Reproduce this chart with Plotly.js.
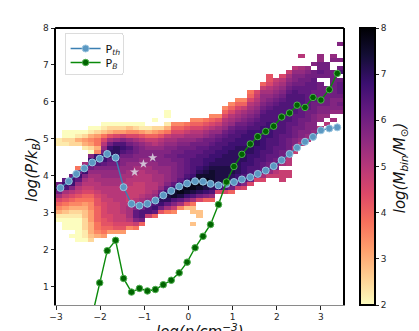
<!DOCTYPE html>
<html><head><meta charset="utf-8">
<script src="https://cdn.plot.ly/plotly-3.0.1.min.js"></script>
<style>html,body{margin:0;padding:0;background:#fff;overflow:hidden}#c{width:419px;height:331px}</style>
</head><body><div id="c"></div>
<script>
// Line series
const logN = [-2.90,-2.71,-2.54,-2.36,-2.18,-2.01,-1.84,-1.65,-1.47,-1.29,-1.11,-0.93,-0.75,-0.57,-0.39,-0.21,-0.03,0.15,0.33,0.50,0.68,0.86,1.03,1.21,1.40,1.57,1.75,1.93,2.11,2.29,2.46,2.64,2.82,3.00,3.19,3.37];
const pTh = [3.67,3.85,4.05,4.20,4.36,4.46,4.59,4.49,3.69,3.24,3.19,3.24,3.33,3.47,3.59,3.71,3.79,3.85,3.84,3.78,3.74,3.78,3.83,3.90,3.96,4.05,4.14,4.26,4.42,4.59,4.76,4.92,5.05,5.23,5.28,5.31];
const pB = [null,null,null,null,0.21,1.10,1.97,2.25,1.22,0.85,0.95,0.88,0.92,1.05,1.17,1.37,1.66,2.05,2.36,2.68,3.22,3.83,4.25,4.58,4.86,5.06,5.20,5.34,5.59,5.70,5.91,5.85,6.12,6.05,6.33,6.77];
const starN = [-1.22,-1.02,-0.81];
const starP = [4.10,4.32,4.49];

// Histogram, one entry per log n bin:
// first filled pressure bin (counted from the top), then one letter per bin.
// a = 2.00, b = 2.25, ... y = 8.00; "." = empty bin
const binStart = [24,22,22,22,22,21,21,20,20,20,20,20,20,20,21,19,21,17,20,20,20,19,19,19,18,18,16,15,14,14,12,12,10,8,9,8,7,6,3,6,5,3,5,3,0];
const binLevels = [
"bb.........qtqnkigeba",
"aacb........rtsnljhfdbaaa",
"aacc.......qttpmkigecbaaa.a",
"abec.....hqtromljhgecbaaaaaa",
"acfeb...nttpnmlkihfeddcccbba",
"abegfcapttqonmmlkihggfffeeedc",
"acfhhegtusponnmmlkjjiiiihhge",
"abdhkmoqttrpoonnmmllkkkkjjihf",
"acejnqtuurqpoonnmmmllllkkjif",
"acfkosuutrqpoonnmmmmlllllkjf",
"acflpstsqppoonnmmmmmmmmllkjf",
"adgkoqsrqpoonnmmllllmnnnmkg",
"acgknpqqpponnmmllllmnprrplh",
"abfjmopppoonmmmlllmnoqssqi",
"beilnoppoonnmmmmmnoqssl",
"a.cfilmopppoonnnmmnoqstri",
"cgjmnoppppoonnnoqsutqj",
"aa.behlnoppqppooooprtvurnh",
"gikmnopqqqppppprtwwsplg",
"gikmopqqrqqqqqrtwxvrng",
"hjlnopqrrrrrrstvxwtpjd",
"gikmnoqqrrsssstvxxvsnhdd..d",
"gikmnpqrrssstuwxxwuqk..dd",
"hjlnoqqrssttuvwxwvtpi",
"gikmopqrssttuvwwwvusoi",
"gjlnoqrssttuuvvvvutk",
"gikmnoqrssttuuuvvvvusk",
"gikmnoqrssttuuuuvvuutqi",
"gikmnoqrssttuuuuuuuttrl",
"gilnopqrstttuuuutttsspk",
"hikmnopqrstttuuutttssrqk",
"klmnopqrssttuutttsssrpk",
"ilnoopqrsssttttttsssrrqnk",
"jjkmnopqrsssttttssssrrqqol",
"lmnopqrssssssssssrrrqqpml",
"kmnopqrssssssssrrrrqqpn.lll",
"lnopqrsssssssrrrrqqqpmmm.ll",
"moppqrssssssrrrqqqppml",
"m..nopqqrrsssrrrqqqppom",
"opqqrrrrrrrqqqpppom",
"p.qqrrrqrrqqqppppon",
"ooqqrq.qqqqqqppoo.m",
"qqqq..qqqqqppo.m",
"op..qqqqqqqpppo.n",
"p...p.qs.qrrrqpqpo"
];
const nBinCount = 45, pBinCount = 50;
const nBinLeft = -3, nBinWidth = 0.14444;
const pBinTop = 7.622, pBinHeight = 0.10827;

const magmaRev = [[0,'#fcfdbf'],[0.1,'#fecf92'],[0.2,'#fe9f6d'],[0.3,'#f7705c'],[0.4,'#de4968'],[0.5,'#b73779'],[0.6,'#8c2981'],[0.7,'#641a80'],[0.8,'#3b0f70'],[0.9,'#140e36'],[1,'#000004']];

const xCenters = [], yCenters = [], zRows = [];
for (let c = 0; c < nBinCount; c++) xCenters.push(nBinLeft + (c + 0.5) * nBinWidth);
for (let j = pBinCount - 1; j >= 0; j--) {
  yCenters.push(pBinTop - (j + 0.5) * pBinHeight);
  const row = [];
  for (let c = 0; c < nBinCount; c++) {
    const ch = binLevels[c][j - binStart[c]];
    row.push(ch && ch !== '.' ? 2 + (ch.charCodeAt(0) - 97) * 0.25 : null);
  }
  zRows.push(row);
}

const F = '"DejaVu Sans", sans-serif';
const traces = [
  {type:'heatmap', x:xCenters, y:yCenters, z:zRows, zmin:2, zmax:8, colorscale:magmaRev, showlegend:false, hoverongaps:false,
   colorbar:{x:1.0595, xanchor:'left', y:0.5, yanchor:'middle', len:1, lenmode:'fraction', thickness:15, thicknessmode:'pixels',
     outlinecolor:'#000', outlinewidth:2, xpad:0, ypad:0, tickmode:'array', tickvals:[2,3,4,5,6,7,8], ticks:'outside', ticklen:3.5, tickwidth:1, tickcolor:'#222',
     tickfont:{family:F,size:9,color:'#262626'}}},
  {type:'scatter', mode:'markers', x:starN, y:starP, showlegend:false,
   marker:{symbol:'star', size:7, color:'rgba(216,208,222,0.9)', line:{width:0}}},
  {type:'scatter', mode:'lines+markers', name:'P<sub><i>th</i></sub>', x:logN, y:pTh,
   line:{color:'#3b7fb2', width:1.4}, marker:{size:7, color:'#5b98c2', line:{color:'#9cc6e0', width:1}}},
  {type:'scatter', mode:'lines+markers', name:'P<sub><i>B</i></sub>', x:logN, y:pB, connectgaps:false,
   line:{color:'#0a8a0a', width:1.4}, marker:{size:6.5, color:'#006400', line:{color:'#4fb04f', width:1}}}
];
const axisTitleFont = {family:F,size:15,color:'#111'};
const layout = {
  width:419, height:331, margin:{l:55.5, r:76.4, t:28, b:25.5}, paper_bgcolor:'#fff', plot_bgcolor:'#fff', font:{family:F},
  xaxis:{range:[-3,3.5], tickvals:[-3,-2,-1,0,1,2,3], ticktext:['−3','−2','−1','0','1','2','3'], ticks:'outside', ticklen:3.5, tickwidth:1, tickcolor:'#222',
    showgrid:false, zeroline:false, showline:true, linecolor:'#8a8a8a', linewidth:1, tickfont:{family:F,size:9,color:'#262626'}},
  yaxis:{range:[0.5,8], tickvals:[1,2,3,4,5,6,7,8], ticks:'outside', ticklen:3.5, tickwidth:1, tickcolor:'#222',
    showgrid:false, zeroline:false, showline:true, mirror:true, linecolor:'#000', linewidth:2, tickfont:{family:F,size:9,color:'#262626'}},
  legend:{x:0.03, y:0.982, xanchor:'left', yanchor:'top', bgcolor:'rgba(255,255,255,0.8)', bordercolor:'#dcdcdc', borderwidth:1,
    font:{family:F,size:11,color:'#111'}, itemwidth:30, tracegroupgap:0},
  shapes:[{type:'line', xref:'paper', yref:'paper', x0:-0.003, x1:1.003, y0:1, y1:1, line:{color:'#000', width:2}}],
  annotations:[
    {xref:'paper', yref:'paper', x:1.2, y:0.495, xanchor:'center', yanchor:'middle', showarrow:false, textangle:-90,
     text:'<i>log(M<sub>bin</sub>/M<sub>⊙</sub>)</i>', font:axisTitleFont},
    {xref:'paper', yref:'paper', x:0.5, y:-0.052, xanchor:'center', yanchor:'top', showarrow:false,
     text:'<i>log(n/cm<sup>−3</sup>)</i>', font:axisTitleFont},
    {xref:'paper', yref:'paper', x:-0.082, y:0.49, xanchor:'center', yanchor:'middle', showarrow:false, textangle:-90,
     text:'<i>log(P/k<sub>B</sub>)</i>', font:axisTitleFont}
  ]
};
Plotly.newPlot('c', traces, layout, {displayModeBar:false, staticPlot:true}).then(function(gd){
  // tighten the legend box to the reference's row spacing
  const items = gd.querySelectorAll('.legend .traces');
  if (items.length === 2) {
    const t = items[1].getAttribute('transform');
    const m = /translate\(([^,]+),\s*([^)]+)\)/.exec(t);
    if (m) items[1].setAttribute('transform', 'translate(' + m[1] + ',' + (parseFloat(m[2]) - 5) + ')');
  }
  const bg = gd.querySelector('.legend .bg');
  if (bg) { bg.setAttribute('height', 41); bg.setAttribute('width', 58); bg.setAttribute('rx', 2); bg.setAttribute('ry', 2); }
});
</script></body></html>
